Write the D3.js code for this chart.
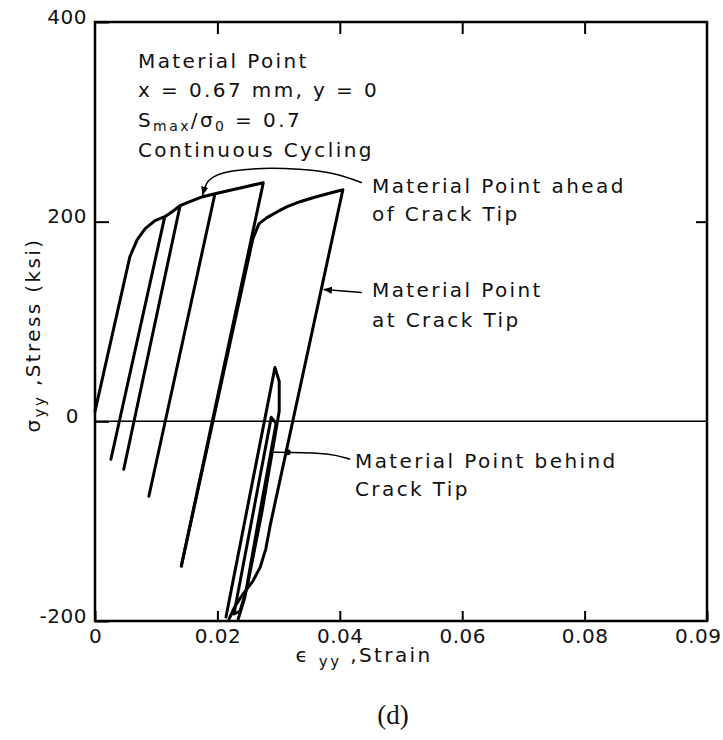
<!DOCTYPE html>
<html>
<head>
<meta charset="utf-8">
<script src="https://cdn.jsdelivr.net/npm/d3@7"></script>
<style>
  body { margin: 0; background: #fff; }
  svg text { font-family: "DejaVu Sans", sans-serif; fill: #111; }
  .lbl { font-size: 20px; letter-spacing: 2.4px; }
  .tick text { font-size: 20px; letter-spacing: 0.5px; }
  .curve { fill: none; stroke: #000; stroke-width: 3; stroke-linejoin: round; stroke-linecap: round; }
  .leader { fill: none; stroke: #000; stroke-width: 1.5; }
</style>
</head>
<body>
<svg id="chart" width="723" height="740"></svg>
<script>
'use strict'

// tick values and their printed labels (the last one really reads 0.09 in the figure)
const xTickValues = [0, 0.02, 0.04, 0.06, 0.08, 0.1]
const xTickLabels = ['0', '0.02', '0.04', '0.06', '0.08', '0.09']
const yTickValues = [-200, 0, 200, 400]
const yTickLabels = ['-200', '0', '200', '400']

// [strain, stress ksi] - material point ahead of crack tip (load / unload cycles)
const aheadCurve = [
  [0.0, 10], [0.0057, 165], [0.0069, 182], [0.0082, 193], [0.0098, 201], [0.0114, 205],
  [0.0026, -38], [0.0114, 205], [0.0126, 210], [0.0139, 216],
  [0.0047, -48], [0.0139, 216], [0.0155, 220], [0.0176, 225], [0.0196, 228],
  [0.0088, -75], [0.0196, 228], [0.0275, 239],
  [0.0141, -145]
]

// material point at crack tip
const tipCurve = [
  [0.0141, -145], [0.0258, 183], [0.0268, 198], [0.0281, 204], [0.0298, 210],
  [0.0314, 215], [0.0335, 220], [0.0356, 224], [0.0380, 228], [0.0405, 232],
  [0.0286, -105], [0.0279, -128], [0.0270, -146], [0.0258, -160], [0.0243, -172],
  [0.0228, -186], [0.0219, -198]
]

// material point behind crack tip (thin loops)
const behindCurve = [
  [0.0214, -196], [0.0294, 54], [0.0301, 40], [0.0301, 10], [0.0273, -90],
  [0.0248, -168], [0.0237, -190], [0.0227, -193], [0.0288, 4], [0.0296, -2],
  [0.0266, -103], [0.0245, -176], [0.0234, -198]
]

// annotation leader lines
const aheadLeader = [[0.0176, 227], [0.0181, 239], [0.0194, 246], [0.0221, 251], [0.0270, 254],
  [0.0335, 253], [0.0392, 249], [0.0436, 239]]
const tipLeader = [[0.0436, 129], [0.0374, 132]]
const behindLeader = [[0.0292, -31], [0.0315, -31], [0.0384, -32], [0.0417, -38]]
const behindDot = [0.0315, -31]

const margins = {top: 22, right: 16, bottom: 119, left: 95}
const width = 723, height = 740

const x = d3.scaleLinear().domain([0, 0.1]).range([margins.left, width - margins.right])
const y = d3.scaleLinear().domain([-200, 400]).range([height - margins.bottom, margins.top])

const svg = d3.select('#chart')

svg.append('defs').append('marker')
  .attr('id', 'arrow')
  .attr('viewBox', '0 0 10 10')
  .attr('refX', 9).attr('refY', 5)
  .attr('markerWidth', 9).attr('markerHeight', 9)
  .attr('markerUnits', 'userSpaceOnUse')
  .attr('orient', 'auto-start-reverse')
  .append('path').attr('d', 'M0,1 L10,5 L0,9 z').attr('fill', '#000')

// zero line
svg.append('line')
  .attr('x1', x(0)).attr('x2', x(0.1))
  .attr('y1', y(0)).attr('y2', y(0))
  .attr('stroke', '#000').attr('stroke-width', 1.5)

// axes: ticks point inward
const xAxis = svg.append('g')
  .attr('transform', 'translate(0,' + y(-200) + ')')
  .call(d3.axisBottom(x).tickValues(xTickValues)
    .tickFormat((d, i) => xTickLabels[i]).tickSize(-10).tickPadding(8))
svg.append('g')
  .attr('transform', 'translate(0,' + y(400) + ')')
  .call(d3.axisTop(x).tickValues([0.02, 0.04, 0.06, 0.08]).tickFormat('').tickSize(-12))
const yAxis = svg.append('g')
  .attr('transform', 'translate(' + x(0) + ',0)')
  .call(d3.axisLeft(y).tickValues(yTickValues)
    .tickFormat((d, i) => yTickLabels[i]).tickSize(-14).tickPadding(8))
svg.append('g')
  .attr('transform', 'translate(' + x(0.1) + ',0)')
  .call(d3.axisRight(y).tickValues([200]).tickFormat('').tickSize(-11))

svg.selectAll('.domain').remove()
svg.selectAll('.tick line').attr('stroke', '#000').attr('stroke-width', 2)
yAxis.selectAll('.tick text').attr('dy', '0.05em')
xAxis.selectAll('.tick text').attr('dy', '0.7em')
// keep the last label inside the picture, like the scan
xAxis.selectAll('.tick text').filter((d, i) => i === xTickValues.length - 1)
  .attr('text-anchor', 'end').attr('dx', 14)
// "0" on the y axis sits further left in the figure
yAxis.selectAll('.tick text').filter(d => d === 0).attr('dx', -8)

// frame
svg.append('rect')
  .attr('x', x(0)).attr('y', y(400))
  .attr('width', x(0.1) - x(0)).attr('height', y(-200) - y(400))
  .attr('fill', 'none').attr('stroke', '#000').attr('stroke-width', 2.5)

// curves
const line = d3.line().x(d => x(d[0])).y(d => y(d[1]))
;[aheadCurve, tipCurve, behindCurve].forEach(c => {
  svg.append('path').attr('class', 'curve').attr('d', line(c))
})

// leaders
const smooth = d3.line().x(d => x(d[0])).y(d => y(d[1])).curve(d3.curveBasis)
svg.append('path').attr('class', 'leader').attr('d', smooth(aheadLeader))
  .attr('marker-start', 'url(#arrow)')
svg.append('path').attr('class', 'leader').attr('d', line(tipLeader))
  .attr('marker-end', 'url(#arrow)')
svg.append('path').attr('class', 'leader').attr('d', smooth(behindLeader))
svg.append('circle').attr('cx', x(behindDot[0])).attr('cy', y(behindDot[1])).attr('r', 3)

// text block in upper left
const info = svg.append('text').attr('class', 'lbl').attr('x', 138).attr('y', 68)
info.append('tspan').attr('x', 138).attr('y', 68).text('Material Point')
info.append('tspan').attr('x', 138).attr('y', 97).text('x = 0.67 mm, y = 0')
const s = info.append('tspan').attr('x', 138).attr('y', 127)
s.append('tspan').text('S')
s.append('tspan').attr('font-size', 14).attr('dy', 4).text('max')
s.append('tspan').attr('dy', -4).text('/σ')
s.append('tspan').attr('font-size', 14).attr('dy', 4).text('0')
s.append('tspan').attr('dy', -4).text(' = 0.7')
info.append('tspan').attr('x', 138).attr('y', 157).text('Continuous Cycling')

const labels = [
  [372, 193, 'Material Point ahead'], [372, 221, 'of Crack Tip'],
  [372, 297, 'Material Point'], [372, 327, 'at Crack Tip'],
  [355, 468, 'Material Point behind'], [355, 496, 'Crack Tip']
]
labels.forEach(l => {
  svg.append('text').attr('class', 'lbl').attr('x', l[0]).attr('y', l[1]).text(l[2])
})

// axis titles
const yt = svg.append('text').attr('class', 'lbl')
  .attr('transform', 'translate(40,335) rotate(-90)')
  .attr('text-anchor', 'middle')
yt.append('tspan').text('σ')
yt.append('tspan').attr('font-size', 15).attr('dy', 5).text('yy')
yt.append('tspan').attr('dy', -5).text(' ,Stress (ksi)')

const xt = svg.append('text').attr('class', 'lbl')
  .attr('x', 364).attr('y', 662).attr('text-anchor', 'middle')
xt.append('tspan').text('ϵ ')
xt.append('tspan').attr('font-size', 15).attr('dy', 5).text('yy')
xt.append('tspan').attr('dy', -5).text(' ,Strain')

svg.append('text')
  .attr('x', 393).attr('y', 724).attr('text-anchor', 'middle')
  .style('font-family', '"Liberation Serif", serif').style('font-size', '27px')
  .text('(d)')
</script>
</body>
</html>
